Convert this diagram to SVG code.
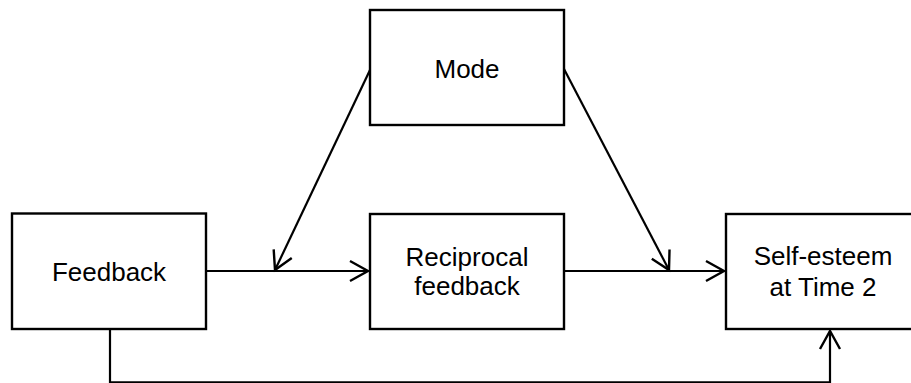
<svg xmlns="http://www.w3.org/2000/svg" width="911" height="383" viewBox="0 0 911 383">
  <style>
    .box { fill: #ffffff; stroke: #000000; stroke-width: 2.4; }
    .label { font-family: "Liberation Sans", Arial, sans-serif; font-size: 26px; fill: #000000; text-anchor: middle; }
    .edge { fill: none; stroke: #000000; stroke-width: 2.2; }
  </style>
  <defs>
    <marker id="open-arrow" markerUnits="userSpaceOnUse" markerWidth="24" markerHeight="24" viewBox="-21 -12 24 24" refX="0" refY="0" orient="auto" overflow="visible">
      <path d="M-18,-10 L0,0 L-18,10" fill="none" stroke="#000000" stroke-width="2.4" stroke-linejoin="miter"/>
    </marker>
  </defs>

  <rect width="911" height="383" fill="#ffffff"/>

  <g id="connectors">
    <!-- Feedback -> Reciprocal feedback -->
    <line class="edge" x1="206" y1="271" x2="368" y2="271" marker-end="url(#open-arrow)"/>
    <!-- Reciprocal feedback -> Self-esteem -->
    <line class="edge" x1="564" y1="271" x2="724" y2="271" marker-end="url(#open-arrow)"/>
    <!-- Mode moderates the first path -->
    <line class="edge" x1="370" y1="70" x2="275" y2="270" marker-end="url(#open-arrow)"/>
    <!-- Mode moderates the second path -->
    <line class="edge" x1="564" y1="69" x2="669" y2="270" marker-end="url(#open-arrow)"/>
    <!-- Direct path: Feedback -> Self-esteem -->
    <polyline class="edge" points="110,329 110,382.3 830,382.3 830,331" marker-end="url(#open-arrow)"/>
  </g>

  <g id="node-mode">
    <rect class="box" x="370" y="10" width="194" height="115"/>
    <text class="label" x="467" y="78">Mode</text>
  </g>

  <g id="node-feedback">
    <rect class="box" x="12" y="213.5" width="194" height="115.5"/>
    <text class="label" x="109" y="281">Feedback</text>
  </g>

  <g id="node-reciprocal">
    <rect class="box" x="370" y="214" width="194" height="115"/>
    <text class="label" x="467" y="266">Reciprocal</text>
    <text class="label" x="467" y="295">feedback</text>
  </g>

  <g id="node-self-esteem">
    <rect class="box" x="726" y="214" width="194" height="115"/>
    <text class="label" x="823" y="265">Self-esteem</text>
    <text class="label" x="823" y="296">at Time 2</text>
  </g>
</svg>
